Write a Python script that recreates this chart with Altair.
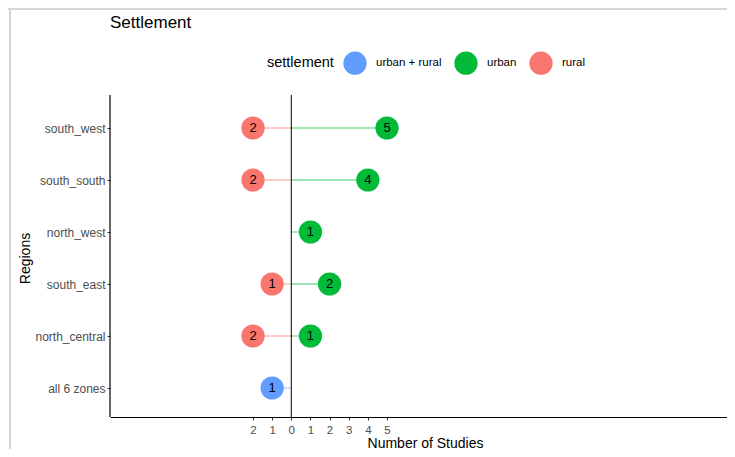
import altair as alt
import pandas as pd

regions = ["south_west", "south_south", "north_west", "south_east", "north_central", "all 6 zones"]
settlement = ["rural", "urban", "rural", "urban", "urban", "rural", "urban", "rural", "urban", "urban + rural"]
region_of = ["south_west", "south_west", "south_south", "south_south", "north_west",
             "south_east", "south_east", "north_central", "north_central", "all 6 zones"]
studies = [2, 5, 2, 4, 1, 1, 2, 2, 1, 1]

cats = ["urban + rural", "urban", "rural"]
colors = ["#619CFF", "#00BA38", "#F8766D"]

df = pd.DataFrame({"region": region_of, "settlement": settlement, "n": studies})
df["x"] = [(-v if s != "urban" else v) for v, s in zip(df["n"], df["settlement"])]
df["zero"] = 0

W, H = 617, 322
font = "Liberation Sans"

xs = alt.Scale(domain=[-9.47, 22.76], nice=False, zero=False)
ys = alt.Scale(domain=regions, type="point", padding=0, range=[33, 293])
cs = alt.Scale(domain=cats, range=colors)

base = alt.Chart(df)

rules = base.mark_rule(strokeWidth=1.3, opacity=0.5).encode(
    x=alt.X("zero:Q", scale=xs),
    x2="x:Q",
    y=alt.Y("region:N", scale=ys),
    color=alt.Color("settlement:N", scale=cs, legend=None),
)

zero_line = alt.Chart(pd.DataFrame({"z": [0]})).mark_rule(color="black", strokeWidth=1).encode(
    x=alt.X("z:Q", scale=xs), y=alt.value(0), y2=alt.value(H)
)

y_domain = alt.Chart(pd.DataFrame({"a": [0]})).mark_rule(color="black", strokeWidth=1.2).encode(
    x=alt.value(0), y=alt.value(0), y2=alt.value(H)
)

points = base.mark_circle(size=540, opacity=1).encode(
    x=alt.X("x:Q", scale=xs,
            axis=alt.Axis(values=[-2, -1, 0, 1, 2, 3, 4, 5], labelExpr="abs(datum.value)",
                          title="Number of Studies", grid=False, titleX=315, titleY=30,
                          titleBaseline="alphabetic", labelPadding=4)),
    y=alt.Y("region:N", scale=ys, sort=regions,
            axis=alt.Axis(title="Regions", grid=False, titlePadding=2, domain=False,
                          labelFontSize=12)),
    color=alt.Color("settlement:N", scale=cs,
                    legend=alt.Legend(title="settlement", orient="none", direction="horizontal",
                                      titleOrient="left", legendX=157, legendY=-44,
                                      symbolSize=540, symbolType="circle", symbolOpacity=1,
                                      labelFontSize=11.5, titleFontSize=14.5, titleFontWeight="normal",
                                      labelColor="black", titleColor="black", columnPadding=12,
                                      labelOffset=9, titlePadding=9, symbolStrokeWidth=0)),
)

labels = base.mark_text(fontSize=13, color="black", font=font).encode(
    x=alt.X("x:Q", scale=xs), y=alt.Y("region:N", scale=ys), text="n:Q"
)

frame_top = alt.Chart(pd.DataFrame({"a": [0]})).mark_rule(color="#C8C8C8", strokeWidth=1.5).encode(
    x=alt.value(-102), x2=alt.value(W + 10), y=alt.value(-86)
)
frame_left = alt.Chart(pd.DataFrame({"a": [0]})).mark_rule(color="#C8C8C8", strokeWidth=1.5).encode(
    x=alt.value(-100), y=alt.value(-86), y2=alt.value(H + 40)
)

chart = alt.layer(frame_top, frame_left, rules, zero_line, y_domain, points, labels).resolve_scale(
    color="independent"
).properties(
    width=W, height=H,
    autosize=alt.AutoSizeParams(type="none"),
    padding={"left": 102, "top": 87, "right": 0, "bottom": 32},
    title=alt.Title("Settlement", anchor="start", frame="group", fontSize=17, fontWeight="normal",
                    font=font, color="black", offset=-24),
).configure_view(stroke=None).configure_axis(
    labelFont=font, titleFont=font, labelFontSize=11.5, labelColor="#4D4D4D",
    titleFontSize=14, titleFontWeight="normal", titleColor="black",
    domainColor="black", tickColor="#333333", domainWidth=1.2, tickSize=3,
).configure_legend(labelFont=font, titleFont=font)

chart.save("out.html", embed_options={"renderer": "svg", "actions": False})
